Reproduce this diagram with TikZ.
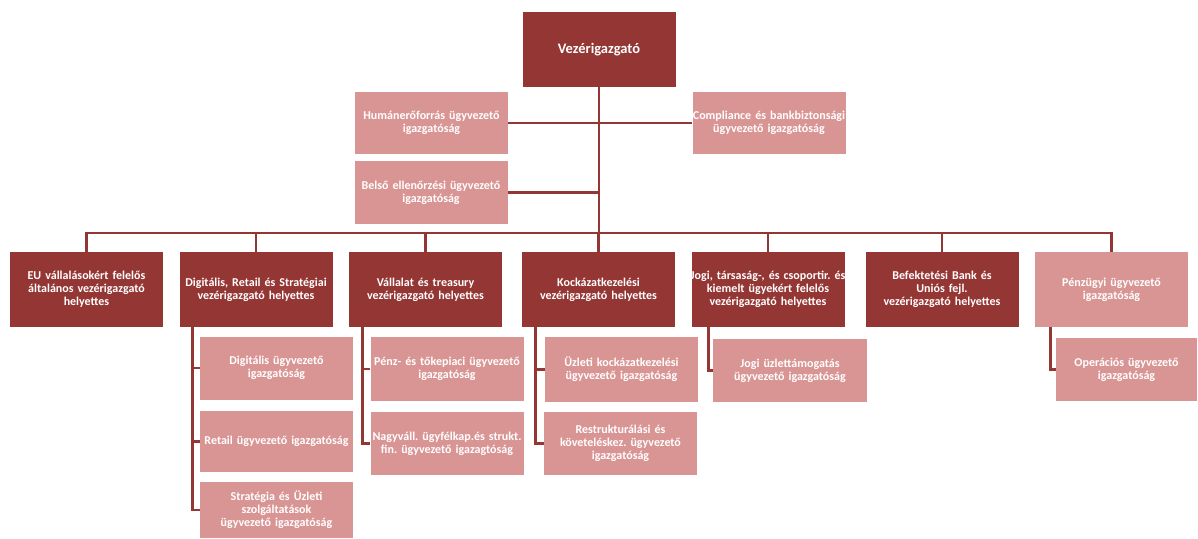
\documentclass[tikz,border=0pt]{standalone}
\usepackage{fontspec}
\setmainfont{Carlito}
\usetikzlibrary{positioning,calc}
\definecolor{darkRed}{HTML}{943634}
\definecolor{lightRed}{HTML}{D99594}
\newcommand\fullline[1]{\makebox[\linewidth]{#1}}
\frenchspacing

\begin{document}
\begin{tikzpicture}[
    x=1pt, y=-1pt,
    box/.style={rectangle,inner sep=1.5pt,minimum width=153pt,text width=150pt,align=center,
        text=white,font=\bfseries\fontsize{12}{13}\selectfont},
    mainbox/.style={box,fill=darkRed,minimum height=75pt},
    subbox/.style={box,fill=lightRed,minimum height=63pt},
    link/.style={draw=darkRed,line width=2.8pt}
]
    \useasboundingbox (0,0) rectangle (1198,538);

    \node[mainbox,font=\bfseries\fontsize{14.5}{16}\selectfont] (ceo) at (599,49.5) {Vezérigazgató};

    \node[subbox,minimum height=62pt] (hr) at (431.5,123) {Humánerőforrás ügyvezető\\igazgatóság};
    \node[subbox,minimum height=62pt] (comp) at (769,123) {\fullline{Compliance és bankbiztonsági}\\ügyvezető igazgatóság};
    \node[subbox] (belso) at (431,192.5) {Belső ellenőrzési ügyvezető\\igazgatóság};

    \node[mainbox] (eu) at (86.5,289.5) {EU vállalásokért felelős\\általános vezérigazgató\\helyettes};
    \node[mainbox] (dig) at (256,289.5) {\fullline{Digitális, Retail és Stratégiai}\\vezérigazgató helyettes};
    \node[mainbox] (vall) at (425.5,289.5) {Vállalat és treasury\\vezérigazgató helyettes};
    \node[mainbox] (kock) at (598.5,289.5) {Kockázatkezelési\\vezérigazgató helyettes};
    \node[mainbox] (jogi) at (768,289.5) {\fullline{Jogi, társaság-, és csoportir. és}\\kiemelt ügyekért felelős\\vezérigazgató helyettes};
    \node[mainbox] (bef) at (942,289.5) {Befektetési Bank és\\Uniós fejl.\\vezérigazgató helyettes};
    \node[box,fill=lightRed,minimum height=75pt] (penz) at (1111.5,289.5) {Pénzügyi ügyvezető\\igazgatóság};

    \node[subbox] (dig1) at (276.5,368) {Digitális ügyvezető\\igazgatóság};
    \node[subbox,minimum height=61pt] (dig2) at (276.5,441.5) {\fullline{Retail ügyvezető igazgatóság}};
    \node[subbox,minimum height=56pt] (dig3) at (276.5,510) {Stratégia és Üzleti\\szolgáltatások\\ügyvezető igazgatóság};
    \node[subbox,minimum height=64pt] (vall1) at (447,369) {\fullline{Pénz- és tőkepiaci ügyvezető}\\igazgatóság};
    \node[subbox] (vall2) at (447,443.5) {\fullline{Nagyváll. ügyfélkap.és strukt.}\\fin. ügyvezető igazagtóság};
    \node[subbox,minimum width=151pt,minimum height=65pt] (kock1) at (621.5,369.5) {Üzleti kockázatkezelési\\ügyvezető igazgatóság};
    \node[subbox] (kock2) at (620.5,443.5) {Restrukturálási és\\követeléskez. ügyvezető\\igazgatóság};
    \node[subbox,minimum width=154pt] (jogi1) at (790,370.5) {Jogi üzlettámogatás\\ügyvezető igazgatóság};
    \node[subbox,minimum width=141pt,text width=138pt] (penz1) at (1126.5,369.5) {Operációs ügyvezető\\igazgatóság};

    \coordinate (bus) at (599,233);

    \draw[link] (ceo.south) -- (bus);
    \draw[link] (hr.east) -- (comp.west);
    \draw[link] (belso.east) -- (belso.east -| ceo.south);
    \draw[link] (eu.north) |- (bus) -| (penz.north);
    \foreach \n in {dig,vall,kock,jogi,bef}
        \draw[link] (\n.north) -- (\n.north |- bus);

    \foreach \n in {dig1,dig2,dig3}
        \draw[link] ([xshift=13pt]dig.south west) |- (\n.west);
    \foreach \n in {vall1,vall2}
        \draw[link] ([xshift=14pt]vall.south west) |- (\n.west);
    \foreach \n in {kock1,kock2}
        \draw[link] ([xshift=14pt]kock.south west) |- (\n.west);
    \draw[link] ([xshift=17pt]jogi.south west) |- (jogi1.west);
    \draw[link] ([xshift=16pt]penz.south west) |- (penz1.west);
\end{tikzpicture}
\end{document}
